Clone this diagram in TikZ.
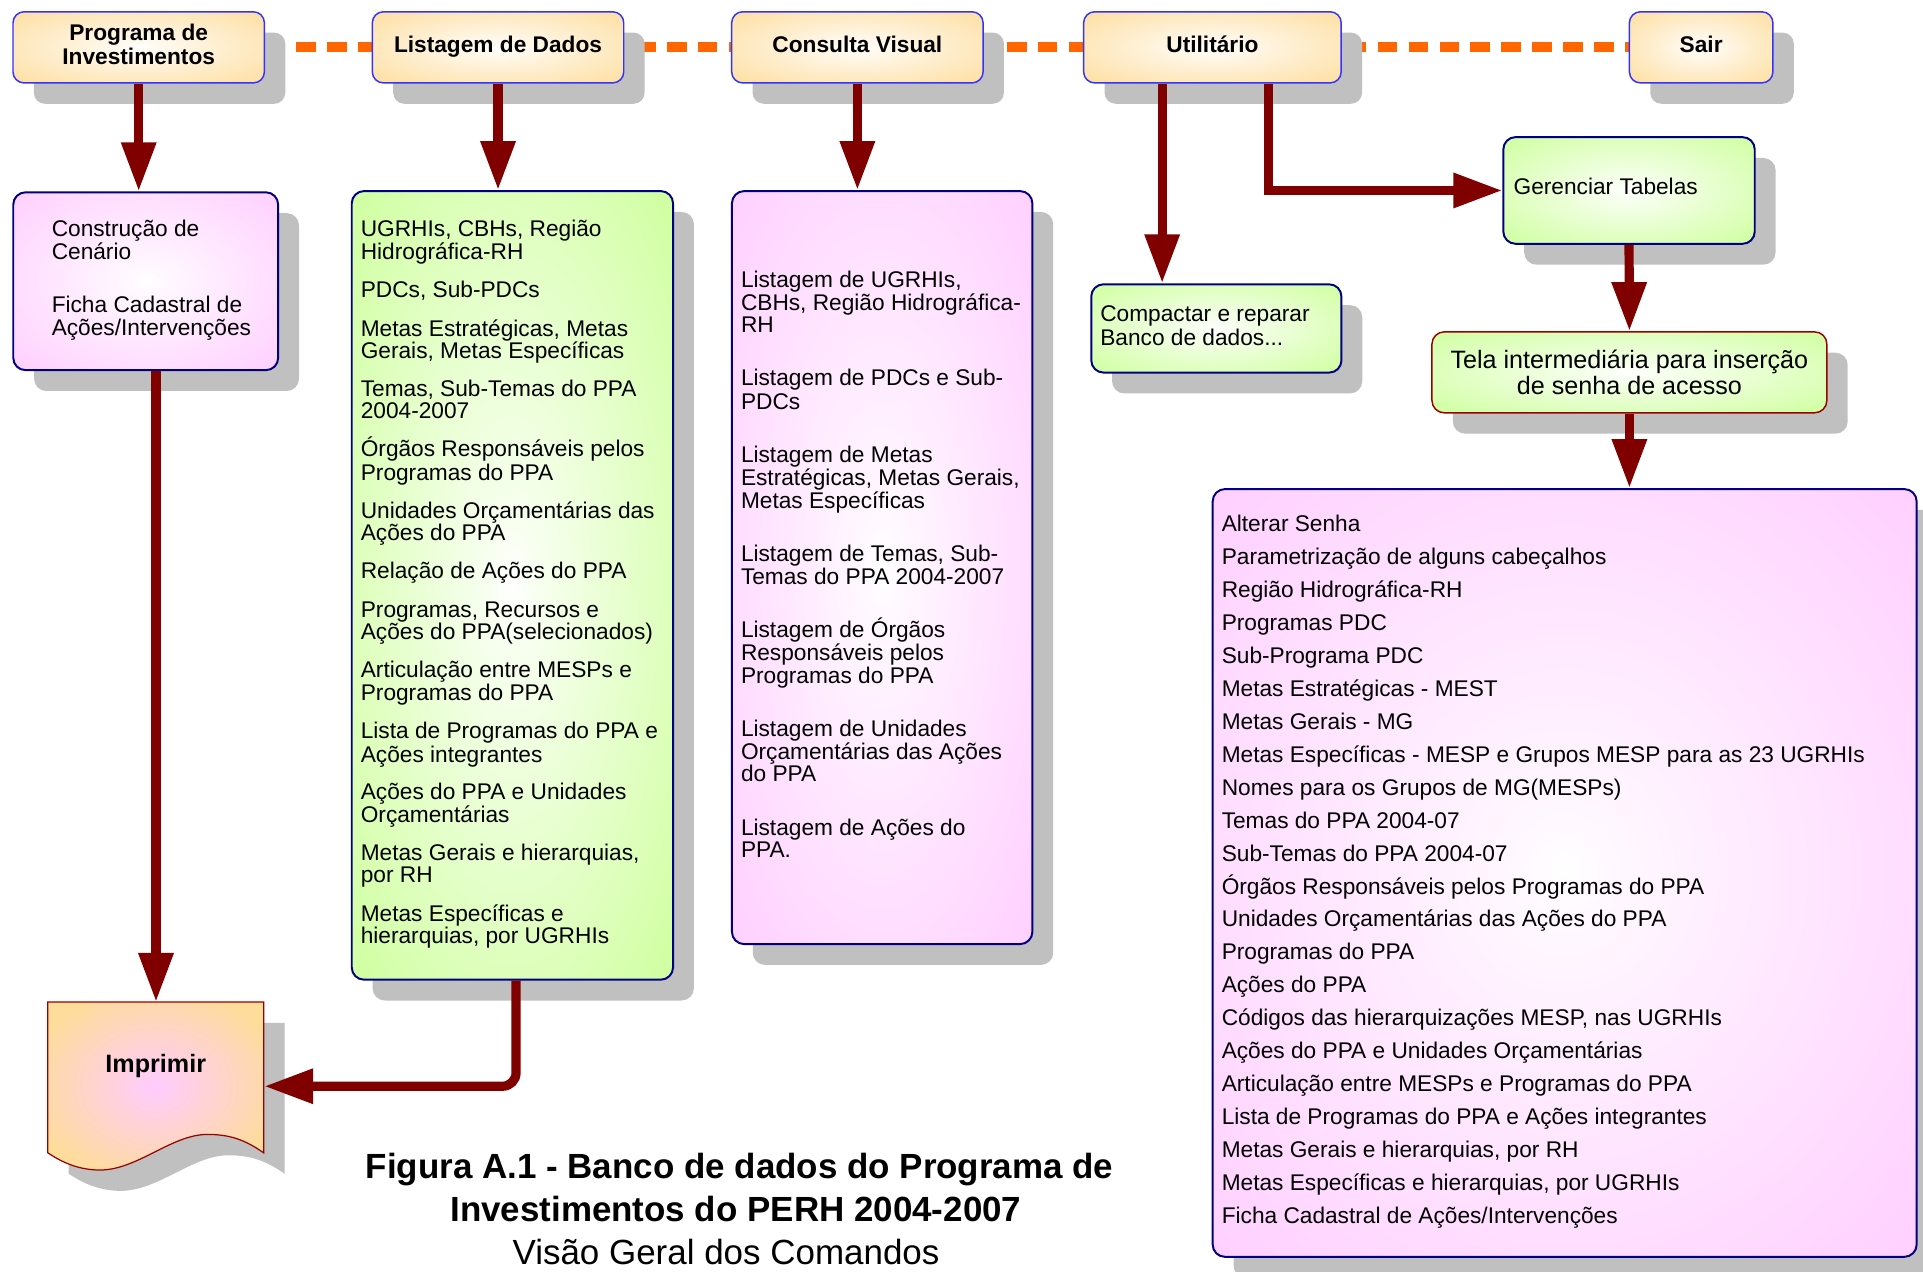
\documentclass[tikz,border=0pt]{standalone}
\usepackage{fontspec}
\setmainfont{Liberation Sans}
\usetikzlibrary{arrows.meta,shadows,calc}
\definecolor{orangec}{HTML}{FEDC9A}
\definecolor{pinkc}{HTML}{FFCCFF}
\definecolor{greenc}{HTML}{CCFF99}
\definecolor{shadowc}{HTML}{C0C0C0}
\definecolor{arrowred}{HTML}{800000}
\definecolor{dashorange}{HTML}{FF6600}
\definecolor{topblue}{HTML}{3333FF}
\definecolor{navyc}{HTML}{000080}
\definecolor{telared}{HTML}{990000}
\colorlet{orangemid}{white!85!orangec}
\colorlet{pinkmid}{white!85!pinkc}
\colorlet{greenmid}{white!85!greenc}
\pgfdeclareradialshading{shOrange}{\pgfpoint{0bp}{0bp}}{color(0bp)=(white); color(4bp)=(orangemid); color(38bp)=(orangec); color(50bp)=(orangec)}
\pgfdeclareradialshading{shPink}{\pgfpoint{0bp}{0bp}}{color(0bp)=(white); color(4bp)=(pinkmid); color(38bp)=(pinkc); color(50bp)=(pinkc)}
\pgfdeclareradialshading{shGreen}{\pgfpoint{0bp}{0bp}}{color(0bp)=(white); color(4bp)=(greenmid); color(38bp)=(greenc); color(50bp)=(greenc)}
\pgfdeclareradialshading{shImp}{\pgfpoint{0bp}{0bp}}{color(0bp)=(pinkc); color(30bp)=(orangec); color(50bp)=(orangec)}
\pgfdeclarelayer{bg}
\pgfsetlayers{bg,main}
\begin{document}
\begin{tikzpicture}[x=1pt,y=-1pt,
  box/.style={rectangle, inner sep=0pt, anchor=north west,
    drop shadow={shadow xshift=17pt, shadow yshift=-17pt, fill=shadowc, opacity=1}},
  topbox/.style={box, rounded corners=9pt, draw=topblue, line width=1.2pt, shade, shading=shOrange,
    minimum height=58pt, font=\fontsize{18.5pt}{19pt}\selectfont\bfseries, align=center,
    text height=14pt, text depth=5pt},
  pinkbox/.style={box, rounded corners=10pt, draw=navyc, line width=1.6pt, shade, shading=shPink},
  greenbox/.style={box, rounded corners=10pt, draw=navyc, line width=1.6pt, shade, shading=shGreen},
  lst/.style={font=\fontsize{18.5pt}{18.7pt}\selectfont, anchor=base west, inner sep=0pt},
  conn/.style={draw=arrowred, line width=7.5pt, -{Triangle[length=40pt,width=27pt]}},
  dashline/.style={draw=dashorange, line width=8.4pt, dash pattern=on 16pt off 9.2pt},
  caption/.style={anchor=base, inner sep=0pt, font=\fontsize{28.5pt}{30pt}\selectfont}
]
\useasboundingbox (0,0) rectangle (1568,1037);

% top menu
\node[topbox, minimum width=205pt, text height=33pt, text depth=5.8pt] (prog) at (10,9) {Programa de\\Investimentos};
\node[topbox, minimum width=205pt] (lstd) at (303,9) {Listagem de Dados};
\node[topbox, minimum width=205pt] (cons) at (596,9) {Consulta Visual};
\node[topbox, minimum width=210pt] (util) at (883,9) {Utilitário};
\node[topbox, minimum width=117pt] (sair) at (1328,9) {Sair};

\begin{pgfonlayer}{bg}
\draw[dashline] (prog.east) -- (sair.west);
\end{pgfonlayer}

% boxes
\node[pinkbox, minimum width=216pt, minimum height=145pt] (constr) at (10,156) {};
\node[greenbox, minimum width=262pt, minimum height=643pt] (glist) at (286,155) {};
\node[pinkbox, minimum width=245pt, minimum height=614pt] (pcons) at (596,155) {};
\node[greenbox, minimum width=204pt, minimum height=72pt] (comp) at (889,231) {};
\node[greenbox, minimum width=205pt, minimum height=87pt] (ger) at (1225,111) {};
\node[greenbox, draw=telared, line width=1.2pt, minimum width=322pt, minimum height=66pt,
  font=\fontsize{20.5pt}{21pt}\selectfont, align=center] (tela) at (1167,270)
  {Tela intermediária para inserção\\de senha de acesso};
\node[pinkbox, minimum width=574pt, minimum height=626pt] (big) at (988,398) {};

% Imprimir document shape
\begin{scope}[shift={(17,17)}]
\fill[shadowc] (39,817) -- (215,817) -- (215,940) .. controls (198,928) and (185,925) .. (169,925)
  .. controls (140,925) and (112,954) .. (81.5,954) .. controls (62,954) and (48,946) .. (39,940) -- cycle;
\end{scope}
\path[shade, shading=shImp, draw=telared, line width=1pt] (39,817) -- (215,817) -- (215,940)
  .. controls (198,928) and (185,925) .. (169,925)
  .. controls (140,925) and (112,954) .. (81.5,954) .. controls (62,954) and (48,946) .. (39,940) -- cycle;
\node[inner sep=0pt, minimum width=176pt, minimum height=137pt, anchor=north west] (imp) at (39,817) {};
\node[font=\fontsize{20.5pt}{21pt}\selectfont\bfseries, inner sep=0pt] (impt) at (127,869) {Imprimir};

% texts
\foreach \yy/\tx [count=\i] in {186/{Construção de}, 205/{Cenário}, 248/{Ficha Cadastral de}, 267/{Ações/Intervenções}}
  \node[lst] (c\i) at (42,\yy+6.5) {\tx};

\foreach \yy/\tx [count=\i] in {186/{UGRHIs, CBHs, Região}, 205/{Hidrográfica-RH}, 236/{PDCs, Sub-PDCs},
  268/{Metas Estratégicas, Metas}, 286/{Gerais, Metas Específicas}, 317/{Temas, Sub-Temas do PPA},
  335/{2004-2007}, 366/{Órgãos Responsáveis pelos}, 385/{Programas do PPA},
  416/{Unidades Orçamentárias das}, 434/{Ações do PPA}, 465/{Relação de Ações do PPA},
  497/{Programas, Recursos e}, 515/{Ações do PPA(selecionados)}, 546/{Articulação entre MESPs e},
  565/{Programas do PPA}, 596/{Lista de Programas do PPA e}, 615/{Ações integrantes},
  645/{Ações do PPA e Unidades}, 664/{Orçamentárias}, 695/{Metas Gerais e hierarquias,},
  713/{por RH}, 745/{Metas Específicas e}, 763/{hierarquias, por UGRHIs}}
  \node[lst] (g\i) at (294,\yy+6.5) {\tx};

\foreach \yy/\tx [count=\i] in {228/{Listagem de UGRHIs,}, 247/{CBHs, Região Hidrográfica-}, 265/{RH},
  308/{Listagem de PDCs e Sub-}, 327/{PDCs}, 371/{Listagem de Metas},
  389/{Estratégicas, Metas Gerais,}, 408/{Metas Específicas}, 451/{Listagem de Temas, Sub-},
  470/{Temas do PPA 2004-2007}, 513/{Listagem de Órgãos}, 532/{Responsáveis pelos},
  551/{Programas do PPA}, 594/{Listagem de Unidades}, 613/{Orçamentárias das Ações},
  631/{do PPA}, 675/{Listagem de Ações do}, 693/{PPA.}}
  \node[lst] (p\i) at (604,\yy+6.5) {\tx};

\node[lst] (comp1) at (897,262.5) {Compactar e reparar};
\node[lst] (comp2) at (897,281.5) {Banco de dados...};
\node[lst] (ger1) at (1234,158.5) {Gerenciar Tabelas};

\foreach \tx [count=\i] in {Alterar Senha, Parametrização de alguns cabeçalhos, Região Hidrográfica-RH,
  Programas PDC, Sub-Programa PDC, Metas Estratégicas - MEST, Metas Gerais - MG,
  Metas Específicas - MESP e Grupos MESP para as 23 UGRHIs, Nomes para os Grupos de MG(MESPs),
  Temas do PPA 2004-07, Sub-Temas do PPA 2004-07, Órgãos Responsáveis pelos Programas do PPA,
  Unidades Orçamentárias das Ações do PPA, Programas do PPA, Ações do PPA,
  {Códigos das hierarquizações MESP, nas UGRHIs}, Ações do PPA e Unidades Orçamentárias,
  Articulação entre MESPs e Programas do PPA, Lista de Programas do PPA e Ações integrantes,
  {Metas Gerais e hierarquias, por RH}, {Metas Específicas e hierarquias, por UGRHIs},
  Ficha Cadastral de Ações/Intervenções}
  \node[lst] (b\i) at (996,{433.5+(\i-1)*26.86}) {\tx};

% caption
\node[caption, font=\fontsize{28.5pt}{30pt}\selectfont\bfseries] (cap1) at (603,961) {Figura A.1 - Banco de dados do Programa de};
\node[caption, font=\fontsize{28.5pt}{30pt}\selectfont\bfseries] (cap2) at (600,996) {Investimentos do PERH 2004-2007};
\node[caption] (cap3) at (592,1031) {Visão Geral dos Comandos};

% connectors
\draw[conn] (prog.south) -- (prog.south |- constr.north);
\draw[conn] (lstd.south) -- (lstd.south |- glist.north);
\draw[conn] (cons.south) -- (cons.south |- pcons.north);
\draw[conn] ([xshift=-41pt]util.south) -- ([xshift=-41pt]util.south |- comp.north);
\draw[conn] ([xshift=46pt]util.south) |- (ger.west);
\draw[conn] (ger.south) -- (tela.north);
\draw[conn] (tela.south) -- (tela.south |- big.north);
\draw[conn] (imp.north |- constr.south) -- (imp.north);
\draw[conn, rounded corners=11pt] ([xshift=3pt]glist.south) |- (imp.east);
\end{tikzpicture}
\end{document}
